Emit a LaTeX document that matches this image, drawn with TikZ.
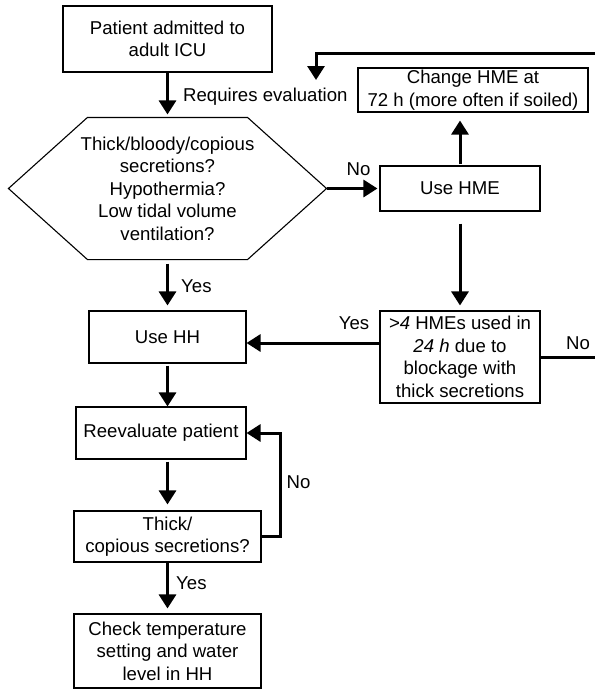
\documentclass[tikz,border=0pt]{standalone}
\usepackage{fontspec}
\setmainfont{Liberation Sans}
\usetikzlibrary{arrows.meta}
\begin{document}
\begin{tikzpicture}[x=1pt,y=-1pt,
  box/.style={draw=black, line width=1.1pt, align=center, inner sep=0pt, font=\fontsize{18.6}{22.5}\selectfont},
  lbl/.style={inner sep=0pt, font=\fontsize{18.6}{22.5}\selectfont},
  arr/.style={line width=3pt, -{Triangle[length=14pt,width=17pt]}}]
\useasboundingbox (0,0) rectangle (595,689);

% nodes
\node[box, minimum width=209pt, minimum height=66pt] (adm) at (167.5,39) {Patient admitted to\\adult ICU};
\node[box, draw=none, minimum width=317pt, minimum height=141pt] (hex) at (167.5,188.5) {Thick/bloody/copious\\secretions?\\Hypothermia?\\Low tidal volume\\ventilation?};
\draw[line width=1.1pt] ([xshift=79pt]hex.north west) -- ([xshift=-79pt]hex.north east) -- (hex.east) -- ([xshift=-79pt]hex.south east) -- ([xshift=79pt]hex.south west) -- (hex.west) -- cycle;
\node[box, minimum width=230pt, minimum height=44pt] (chg) at (473,90) {Change HME at\\72 h (more often if soiled)};
\node[box, minimum width=160pt, minimum height=45pt] (hme) at (460,188.5) {Use HME};
\node[box, minimum width=160pt, minimum height=92pt] (blk) at (460,357) {\textit{>4} HMEs used in\\\textit{24 h} due to\\blockage with\\thick secretions};
\node[box, minimum width=157pt, minimum height=52pt] (hh) at (167.5,337) {Use HH};
\node[box, minimum width=170pt, minimum height=52pt] (rev) at (161,433) {Reevaluate patient};
\node[box, minimum width=187pt, minimum height=51pt] (thk) at (167.5,536.5) {Thick/\\copious secretions?};
\node[box, minimum width=187pt, minimum height=74pt] (chk) at (167.5,651) {Check temperature\\setting and water\\level in HH};

% labels
\node[lbl, anchor=west] (req) at (183,97) {Requires evaluation};
\node[lbl] (no1) at (358.5,169) {No};
\node[lbl] (no2) at (578,343) {No};
\node[lbl] (yes1) at (354,323) {Yes};
\node[lbl, anchor=west] (yes2) at (181,286) {Yes};
\node[lbl] (no3) at (298.5,482) {No};
\node[lbl, anchor=west] (yes3) at (176,583) {Yes};

% connectors
\draw[arr, shorten >=3pt] (adm.south) -- (hex.north);
\draw[arr, shorten >=2pt] (hex.east) -- (hme.west);
\draw[arr, shorten <=1pt, shorten >=8pt] (hme.north) -- (hme.north |- chg.south);
\draw[arr, shorten <=12pt, shorten >=5pt] (hme.south) -- (blk.north);
\coordinate (ret) at (316,80);
\coordinate (corner) at (606,53);
\draw[arr] (blk.east) -| (corner) -| (ret);
\path ([yshift=14pt]blk.west) coordinate (yb);
\draw[arr] (yb) -- (yb -| hh.east);
\draw[arr, shorten <=4pt, shorten >=5pt] (hex.south) -- (hh.north);
\draw[arr, shorten <=2pt] (hh.south) -- (hh.south |- rev.north);
\draw[arr, shorten <=2pt, shorten >=6pt] (rev.south -| thk.north) -- (thk.north);
\draw[arr] (thk.east) -- ++(19,0) |- (rev.east);
\draw[arr, shorten >=5pt] (thk.south) -- (chk.north);
\end{tikzpicture}
\end{document}
